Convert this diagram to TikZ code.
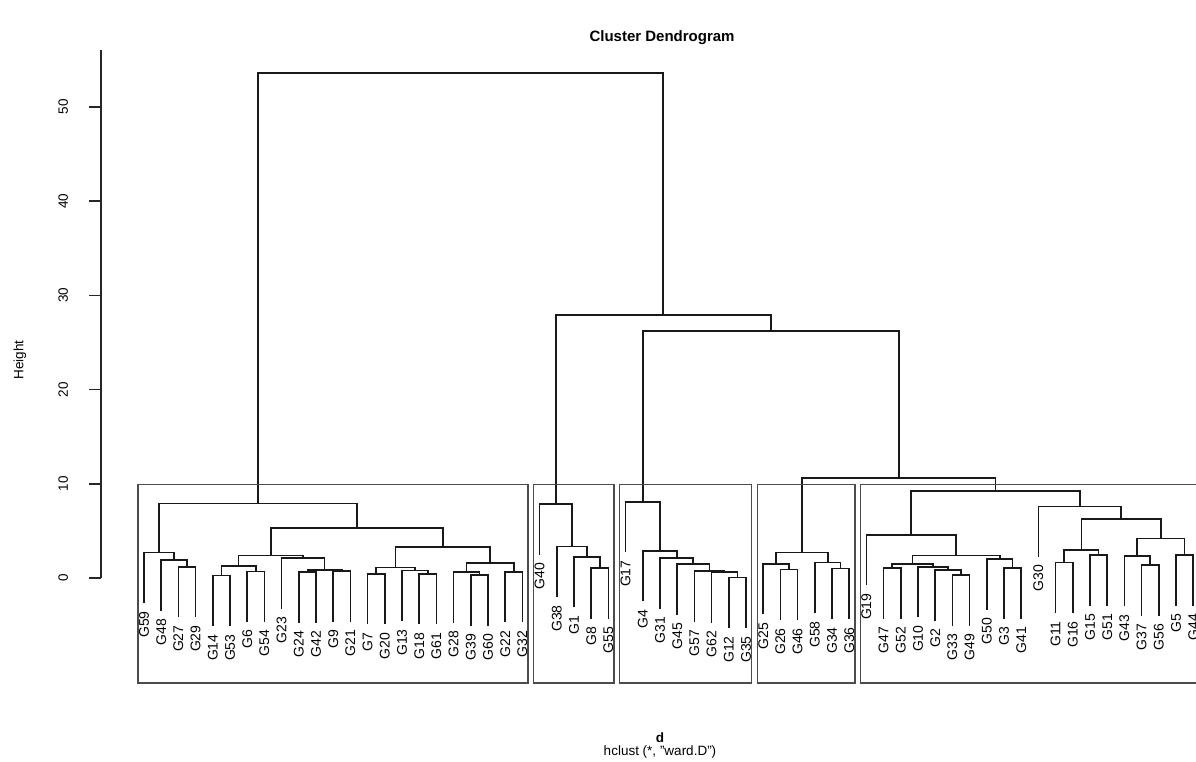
\documentclass[tikz,border=0pt]{standalone}
\usepackage{fontspec}
\setmainfont{Liberation Sans}
\usetikzlibrary{calc}

% two branches meet at a given height
\newcommand\hmerge[4]{%
  \path let \p1=(#2), \p2=(#3) in ({(\x1+\x2)/2},#4) coordinate (#1);
  \draw[branch] (#2) |- (#1) -| (#3);}

\begin{document}
\begin{tikzpicture}[x=17.2pt,y=9.42pt]
   \tikzset{font={\fontsize{13.5pt}{14}\selectfont}}
   \tikzset{branch/.style={line width=1.7pt,black!90},
     clbox/.style={line width=1.4pt,black!70},
     leaf/.style={rotate=90,anchor=east,inner xsep=8pt,inner ysep=0pt,
       font={\fontsize{14pt}{14}\selectfont}}}
    \useasboundingbox (-7.372,-19.427) rectangle (62.163,61.359);
    % axis
    \draw[line width=1.5pt,black!85] (-1.5,0)--(-1.5,56.1);
    \foreach \v in {0,10,...,50}{
      \draw[line width=1.5pt,black!85] (-1.5,\v)--(-2.2,\v);
      \node[rotate=90] (tick\v) at (-3.7,\v) {\v};
    }
    \node[rotate=90] (ylab) at (-6.21,23.14) {Height};
    \node (title) at (31.12,57.32) {\fontsize{15pt}{16}\selectfont\bfseries Cluster Dendrogram};
    \node (xlab) at (31.0,-16.99) {\bfseries d};
    \node (sublab) at (31.0,-18.47) {hclust (*, "ward.D")};
    % leaves: number / height of the merge above
    \foreach \g/\h [count=\i] in {59/2.7,48/1.9,27/1.2,29/1.2,14/0.25,53/0.25,6/0.7,54/0.7,
      23/2.1,24/0.6,42/0.6,9/0.75,21/0.75,7/0.45,20/0.45,13/0.8,18/0.45,61/0.45,28/0.6,
      39/0.3,60/0.3,22/0.65,32/0.65,40/7.85,38/3.35,1/2.25,8/1.05,55/1.05,17/8.1,4/2.9,
      31/2.1,45/1.45,57/0.75,62/0.6,12/0.05,35/0.05,25/1.5,26/0.9,46/0.9,58/1.65,34/1.0,
      36/1.0,19/4.6,47/1.05,52/1.05,10/1.2,2/0.85,33/0.3,49/0.3,50/2.0,3/1.05,41/1.05,
      30/7.6,11/1.65,16/1.65,15/2.45,51/2.45,43/2.35,37/1.35,56/1.35,5/2.45,44/2.45}
      \node[leaf] (G\g) at (\i,\h-5.37) {G\g};
    % first group
    \hmerge{a1}{G27.east}{G29.east}{1.2}
    \hmerge{a2}{G48.east}{a1}{1.9}
    \hmerge{a3}{G59.east}{a2}{2.7}
    \hmerge{a4}{G14.east}{G53.east}{0.25}
    \hmerge{a5}{G6.east}{G54.east}{0.7}
    \hmerge{a6}{a4}{a5}{1.3}
    \hmerge{a7}{G24.east}{G42.east}{0.6}
    \hmerge{a8}{G9.east}{G21.east}{0.75}
    \hmerge{a9}{a7}{a8}{0.85}
    \hmerge{a10}{G23.east}{a9}{2.1}
    \hmerge{a11}{a6}{a10}{2.4}
    \hmerge{a12}{G7.east}{G20.east}{0.45}
    \hmerge{a13}{G18.east}{G61.east}{0.45}
    \hmerge{a14}{G13.east}{a13}{0.8}
    \hmerge{a15}{a12}{a14}{1.1}
    \hmerge{a16}{G39.east}{G60.east}{0.3}
    \hmerge{a17}{G28.east}{a16}{0.6}
    \hmerge{a18}{G22.east}{G32.east}{0.65}
    \hmerge{a19}{a17}{a18}{1.6}
    \hmerge{a20}{a15}{a19}{3.3}
    \hmerge{a21}{a11}{a20}{5.3}
    \hmerge{a22}{a3}{a21}{7.9}
    % second group
    \hmerge{b1}{G8.east}{G55.east}{1.05}
    \hmerge{b2}{G1.east}{b1}{2.25}
    \hmerge{b3}{G38.east}{b2}{3.35}
    \hmerge{b4}{G40.east}{b3}{7.85}
    % third group
    \hmerge{c1}{G12.east}{G35.east}{0.05}
    \hmerge{c2}{G62.east}{c1}{0.6}
    \hmerge{c3}{G57.east}{c2}{0.75}
    \hmerge{c4}{G45.east}{c3}{1.45}
    \hmerge{c5}{G31.east}{c4}{2.1}
    \hmerge{c6}{G4.east}{c5}{2.9}
    \hmerge{c7}{G17.east}{c6}{8.1}
    % fourth group
    \hmerge{d1}{G26.east}{G46.east}{0.9}
    \hmerge{d2}{G25.east}{d1}{1.5}
    \hmerge{d3}{G34.east}{G36.east}{1.0}
    \hmerge{d4}{G58.east}{d3}{1.65}
    \hmerge{d5}{d2}{d4}{2.7}
    % fifth group
    \hmerge{e1}{G47.east}{G52.east}{1.05}
    \hmerge{e2}{G33.east}{G49.east}{0.3}
    \hmerge{e3}{G2.east}{e2}{0.85}
    \hmerge{e4}{G10.east}{e3}{1.2}
    \hmerge{e5}{e1}{e4}{1.45}
    \hmerge{e6}{G3.east}{G41.east}{1.05}
    \hmerge{e7}{G50.east}{e6}{2.0}
    \hmerge{e8}{e5}{e7}{2.4}
    \hmerge{e9}{G19.east}{e8}{4.6}
    \hmerge{e10}{G11.east}{G16.east}{1.65}
    \hmerge{e11}{G15.east}{G51.east}{2.45}
    \hmerge{e12}{e10}{e11}{2.95}
    \hmerge{e13}{G37.east}{G56.east}{1.35}
    \hmerge{e14}{G43.east}{e13}{2.35}
    \hmerge{e15}{G5.east}{G44.east}{2.45}
    \hmerge{e16}{e14}{e15}{4.2}
    \hmerge{e17}{e12}{e16}{6.3}
    \hmerge{e18}{G30.east}{e17}{7.6}
    \hmerge{e19}{e9}{e18}{9.2}
    % top of the tree
    \hmerge{t1}{d5}{e19}{10.6}
    \hmerge{t2}{c7}{t1}{26.2}
    \hmerge{t3}{b4}{t2}{27.9}
    \hmerge{t4}{a22}{t3}{53.6}
    % five clusters
    \draw[clbox] (0.66,-11.15) rectangle (23.33,9.9);
    \draw[clbox] (23.66,-11.15) rectangle (28.33,9.9);
    \draw[clbox] (28.66,-11.15) rectangle (36.33,9.9);
    \draw[clbox] (36.66,-11.15) rectangle (42.33,9.9);
    \draw[clbox] (42.66,-11.15) rectangle (62.33,9.9);
    \end{tikzpicture}
\end{document}
